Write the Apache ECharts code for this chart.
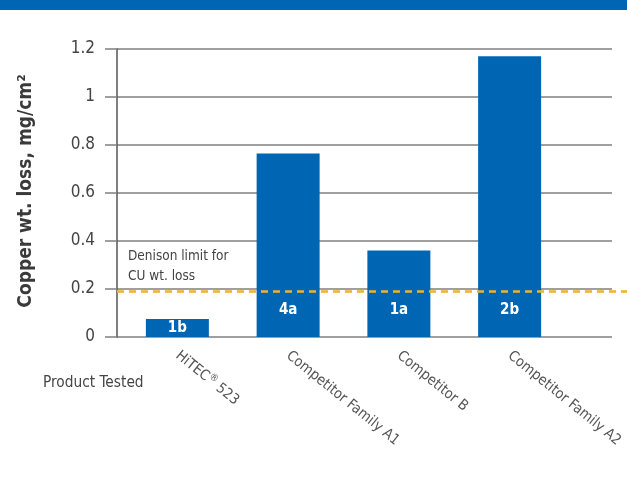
<!DOCTYPE html>
<html><head><meta charset="utf-8">
<script src="https://cdn.jsdelivr.net/npm/echarts@6/dist/echarts.min.js"></script>
<style>html,body{margin:0;padding:0;background:#fff}#c{width:627px;height:492px}</style>
</head><body><div id="c"></div>
<script>
const categories = ['HiTEC® 523', 'Competitor Family A1', 'Competitor B', 'Competitor Family A2'];
const copperLoss = [0.075, 0.765, 0.36, 1.17];
const barLabels = ['1b', '4a', '1a', '2b'];
const yMin = 0, yMax = 1.2, yStep = 0.2;
const denisonLimit = 0.19;
const yTitle = 'Copper wt. loss, mg/cm²';
const xTitle = 'Product Tested';
const limitNote = 'Denison limit for\nCU wt. loss';

const FONT = '"DejaVu Sans Condensed", "Liberation Sans Narrow", sans-serif';
const BLUE = '#0066b3';
const GRID_TOP = 49, GRID_BOTTOM = 155;

const chart = echarts.init(document.getElementById('c'), null, {renderer: 'canvas'});

chart.setOption({
  animation: false,
  backgroundColor: '#fff',
  grid: [
    {left: 117, right: 15, top: GRID_TOP, bottom: GRID_BOTTOM},
    {left: 122, right: 62, top: GRID_TOP, bottom: GRID_BOTTOM}
  ],
  xAxis: [
    {gridIndex: 0, type: 'value', show: false, min: 0, max: 1},
    {gridIndex: 1, type: 'category', data: categories, boundaryGap: true,
     axisLine: {show: false}, axisTick: {show: false}, splitLine: {show: false},
     axisLabel: {
       interval: 0, rotate: -39, margin: 17, color: '#555', fontSize: 14.5, fontFamily: FONT,
       formatter: v => v.replace('®', '{sup|®}'),
       rich: {sup: {fontSize: 10, color: '#555', fontFamily: FONT, verticalAlign: 'top', padding: [0, 0, 8, 0]}}
     }}
  ],
  yAxis: [
    {gridIndex: 0, type: 'value', min: yMin, max: yMax, interval: yStep,
     axisLine: {show: true, lineStyle: {color: '#555', width: 1.5}},
     axisTick: {show: true, length: 12, lineStyle: {color: '#7f7f7f', width: 1.5}},
     splitLine: {show: true, lineStyle: {color: '#7f7f7f', width: 1.5}},
     axisLabel: {margin: 22, color: '#444', fontSize: 17, fontFamily: FONT}},
    {gridIndex: 1, type: 'value', min: yMin, max: yMax, interval: yStep, show: false,
     splitLine: {show: false}}
  ],
  series: [{
    type: 'bar',
    xAxisIndex: 1, yAxisIndex: 1,
    barWidth: 63,
    itemStyle: {color: BLUE},
    data: copperLoss.map((v, i) => ({
      value: v,
      label: v < 0.15 ? {position: 'inside'} : {position: 'insideBottom', distance: 19}
    })),
    label: {
      show: true, color: '#fff', fontWeight: 'bold', fontSize: 15, fontFamily: FONT,
      formatter: p => barLabels[p.dataIndex]
    },
    z: 3
  }],
  graphic: [
    {id: 'band', type: 'rect', left: 0, top: 0, shape: {width: 627, height: 10}, style: {fill: BLUE}},
    {id: 'ytitle', type: 'text', x: 26, y: 191, rotation: Math.PI / 2,
     style: {text: yTitle, fill: '#3a3a3a', font: 'bold 19px ' + FONT, textAlign: 'center', textVerticalAlign: 'middle'}},
    {id: 'xtitle', type: 'text', x: 43, y: 383,
     style: {text: xTitle, fill: '#444', font: '15.3px ' + FONT, textAlign: 'left', textVerticalAlign: 'middle'}},
    {id: 'note', type: 'text', x: 128, y: 246,
     style: {text: limitNote, fill: '#444', font: '13.5px ' + FONT, lineHeight: 20, textAlign: 'left', textVerticalAlign: 'top'}}
  ]
});

const yLine = chart.convertToPixel({yAxisIndex: 0}, denisonLimit);
const xLeft = chart.convertToPixel({xAxisIndex: 0}, 0);
chart.setOption({
  graphic: [
    {id: 'limit', type: 'line', z: 10,
     shape: {x1: xLeft, y1: yLine, x2: 627, y2: yLine},
     style: {stroke: '#f0b323', lineWidth: 2.5, lineDash: [7, 5]}}
  ]
});
</script>
</body></html>
